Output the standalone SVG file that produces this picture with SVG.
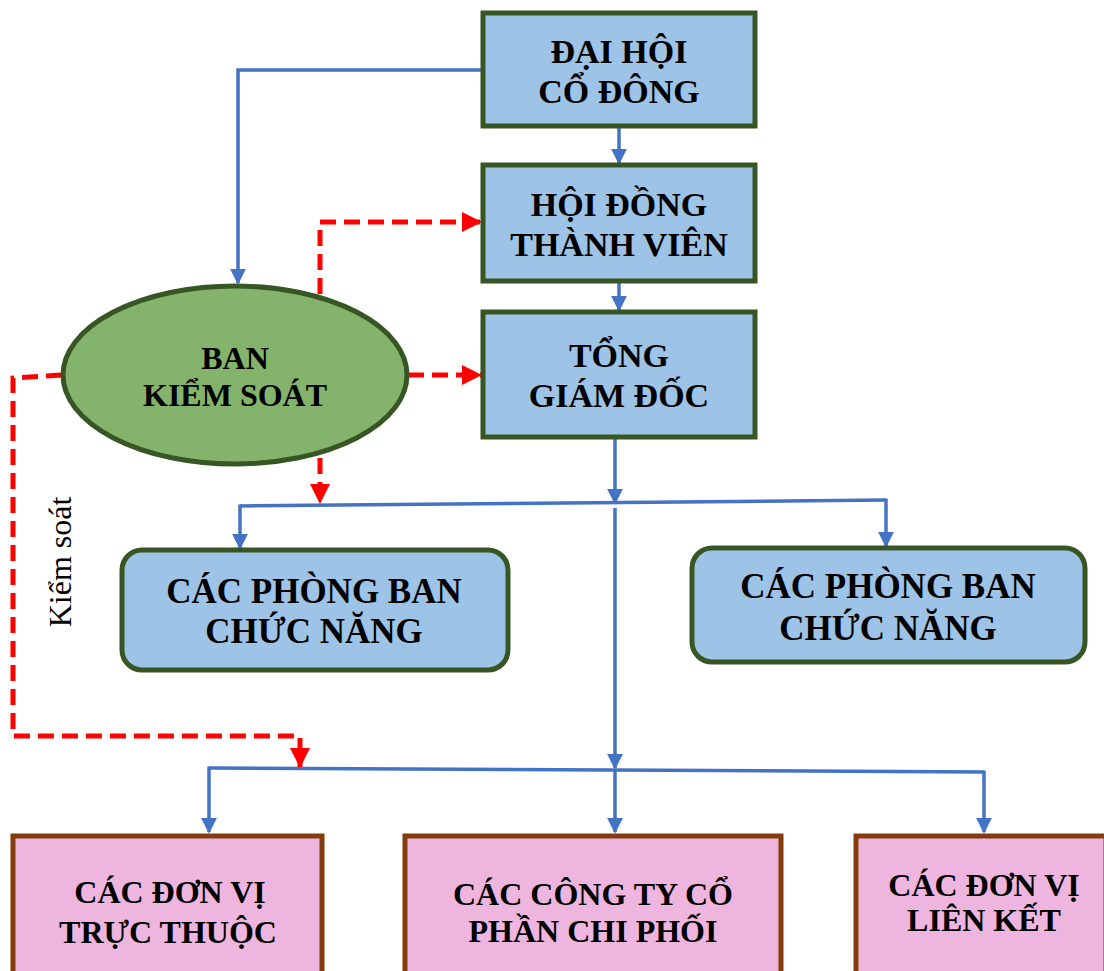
<svg xmlns="http://www.w3.org/2000/svg" width="1104" height="971" viewBox="0 0 1104 971">
<style>
.bx{fill:#9DC3E6;stroke:#375623;stroke-width:5}
.pk{fill:#EEB6DE;stroke:#843C0C;stroke-width:5}
.t{font-family:"Liberation Serif","Times New Roman",serif;font-weight:bold;font-size:34px;fill:#000;text-anchor:middle}
.b{fill:none;stroke:#4472C4;stroke-width:3.5}
.r{fill:none;stroke:#FF0000;stroke-width:5;stroke-dasharray:16 8}
</style>
<defs>
<marker id="ab" markerWidth="4.5" markerHeight="4.5" refX="4" refY="2.25" orient="auto" markerUnits="strokeWidth"><path d="M0,0 L4.5,2.25 L0,4.5 Z" fill="#4472C4"/></marker>
<marker id="ar" markerWidth="4" markerHeight="4" refX="3.8" refY="2" orient="auto" markerUnits="strokeWidth"><path d="M0,0 L4,2 L0,4 Z" fill="#FF0000"/></marker>
</defs>
<g id="connectors">
<path class="b" d="M483,70 H238 V283" marker-end="url(#ab)"/>
<path class="b" d="M619,126 V163" marker-end="url(#ab)"/>
<path class="b" d="M619,281 V310" marker-end="url(#ab)"/>
<path class="b" d="M615,437 V503" marker-end="url(#ab)"/>
<path class="b" d="M240,506 L886,500"/>
<path class="b" d="M240,504.5 V548" marker-end="url(#ab)"/>
<path class="b" d="M886,498.5 V546" marker-end="url(#ab)"/>
<path class="b" d="M615,508 V768" marker-end="url(#ab)"/>
<path class="b" d="M209,768 L984,772"/>
<path class="b" d="M209,766.5 V832" marker-end="url(#ab)"/>
<path class="b" d="M984,770.5 V832" marker-end="url(#ab)"/>
<path class="b" d="M615,770 V832" marker-end="url(#ab)"/>
<path class="r" d="M320,294 V222 H481" marker-end="url(#ar)"/>
<path class="r" d="M408,375 H481" marker-end="url(#ar)"/>
<path class="r" d="M320,458 V503" marker-end="url(#ar)"/>
<path class="r" d="M62,375 L13,378 V736 H300 V767" marker-end="url(#ar)"/>
<text x="0" y="0" transform="translate(71,562) rotate(-90)" font-family="Liberation Serif,Times New Roman,serif" font-size="32" text-anchor="middle" fill="#000">Kiểm soát</text>
</g>
<g id="dhcd"><rect class="bx" x="483" y="13" width="272" height="113"/><text class="t" x="619" y="63">ĐẠI HỘI</text><text class="t" x="619" y="103">CỔ ĐÔNG</text></g>
<g id="hdtv"><rect class="bx" x="483" y="165" width="272" height="116"/><text class="t" x="619" y="216">HỘI ĐỒNG</text><text class="t" x="619" y="256">THÀNH VIÊN</text></g>
<g id="tgd"><rect class="bx" x="483" y="312" width="272" height="125"/><text class="t" x="619" y="367">TỔNG</text><text class="t" x="619" y="407">GIÁM ĐỐC</text></g>
<g id="bks"><ellipse cx="235" cy="375" rx="172" ry="89" fill="#84B46B" stroke="#375623" stroke-width="5"/><text class="t" x="235" y="369" style="font-size:32px">BAN</text><text class="t" x="235" y="406" style="font-size:32px">KIỂM SOÁT</text></g>
<g id="pb1"><rect class="bx" x="122" y="550" width="386" height="120" rx="20"/><text class="t" x="314" y="603" style="font-size:35px">CÁC PHÒNG BAN</text><text class="t" x="314" y="643" style="font-size:35px">CHỨC NĂNG</text></g>
<g id="pb2"><rect class="bx" x="692" y="548" width="393" height="114" rx="20"/><text class="t" x="888" y="598" style="font-size:35px">CÁC PHÒNG BAN</text><text class="t" x="888" y="640" style="font-size:35px">CHỨC NĂNG</text></g>
<g id="dvtt"><rect class="pk" x="13" y="836" width="309" height="145"/><text class="t" x="170" y="903" style="font-size:32px">CÁC ĐƠN VỊ</text><text class="t" x="168" y="943" style="font-size:32px">TRỰC THUỘC</text></g>
<g id="ctcp"><rect class="pk" x="405" y="836" width="376" height="145"/><text class="t" x="593" y="905" style="font-size:32px">CÁC CÔNG TY CỔ</text><text class="t" x="593" y="942" style="font-size:32px">PHẦN CHI PHỐI</text></g>
<g id="dvlk"><rect class="pk" x="856" y="836" width="250" height="145"/><text class="t" x="984" y="896" style="font-size:32px">CÁC ĐƠN VỊ</text><text class="t" x="984" y="931" style="font-size:32px">LIÊN KẾT</text></g>
</svg>
